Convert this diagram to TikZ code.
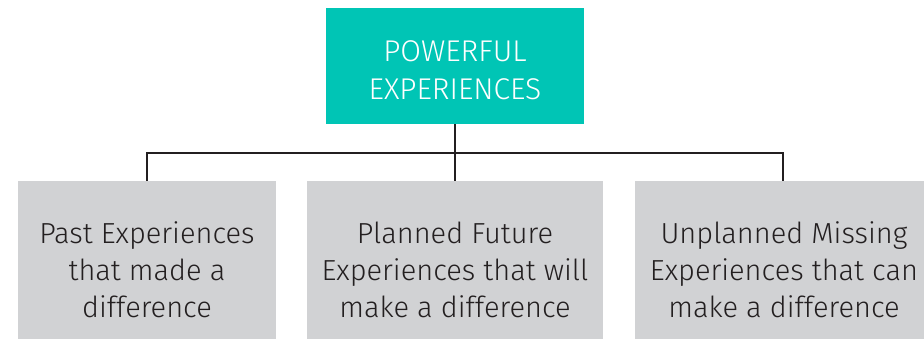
\documentclass[tikz,border=0pt]{standalone}
\usepackage{fontspec}
\setmainfont{Fira Sans Light}
\definecolor{teal}{HTML}{00C5B5}
\definecolor{boxgray}{HTML}{D1D2D4}
\definecolor{linedark}{HTML}{231F20}
\begin{document}
\begin{tikzpicture}[x=1pt,y=-1pt,
  topbox/.style={fill=teal,minimum width=258pt,minimum height=116pt,inner sep=0pt},
  toptext/.style={text=white,inner sep=0pt,align=center,font=\fontsize{30}{38}\selectfont},
  subbox/.style={fill=boxgray,minimum height=158pt,inner sep=0pt},
  subtext/.style={text=linedark,inner sep=0pt,align=center,font=\fontsize{29}{37}\selectfont},
  conn/.style={draw=linedark,line width=2.2pt}]
\useasboundingbox (0,0) rectangle (924,349);
\node[topbox] (top) at (455,66) {};
\node[toptext] (tt) at (455,70) {POWERFUL\\EXPERIENCES};
\node[subbox,minimum width=258pt] (b1) at (147,260) {};
\node[subbox,minimum width=296pt] (b2) at (455,260) {};
\node[subbox,minimum width=296pt] (b3) at (783,260) {};
\node[subtext] (t1) at (147,270) {Past Experiences\\that made a\\difference};
\node[subtext] (t2) at (455,270) {Planned Future\\Experiences that will\\make a difference};
\node[subtext] (t3) at (784,270) {Unplanned Missing\\Experiences that can\\make a difference};
\coordinate (j) at (455,153);
\draw[conn] (top.south) -- (j);
\draw[conn] (b1.north) |- (j) -| (b3.north);
\draw[conn] (j) -- (b2.north);
\end{tikzpicture}
\end{document}
